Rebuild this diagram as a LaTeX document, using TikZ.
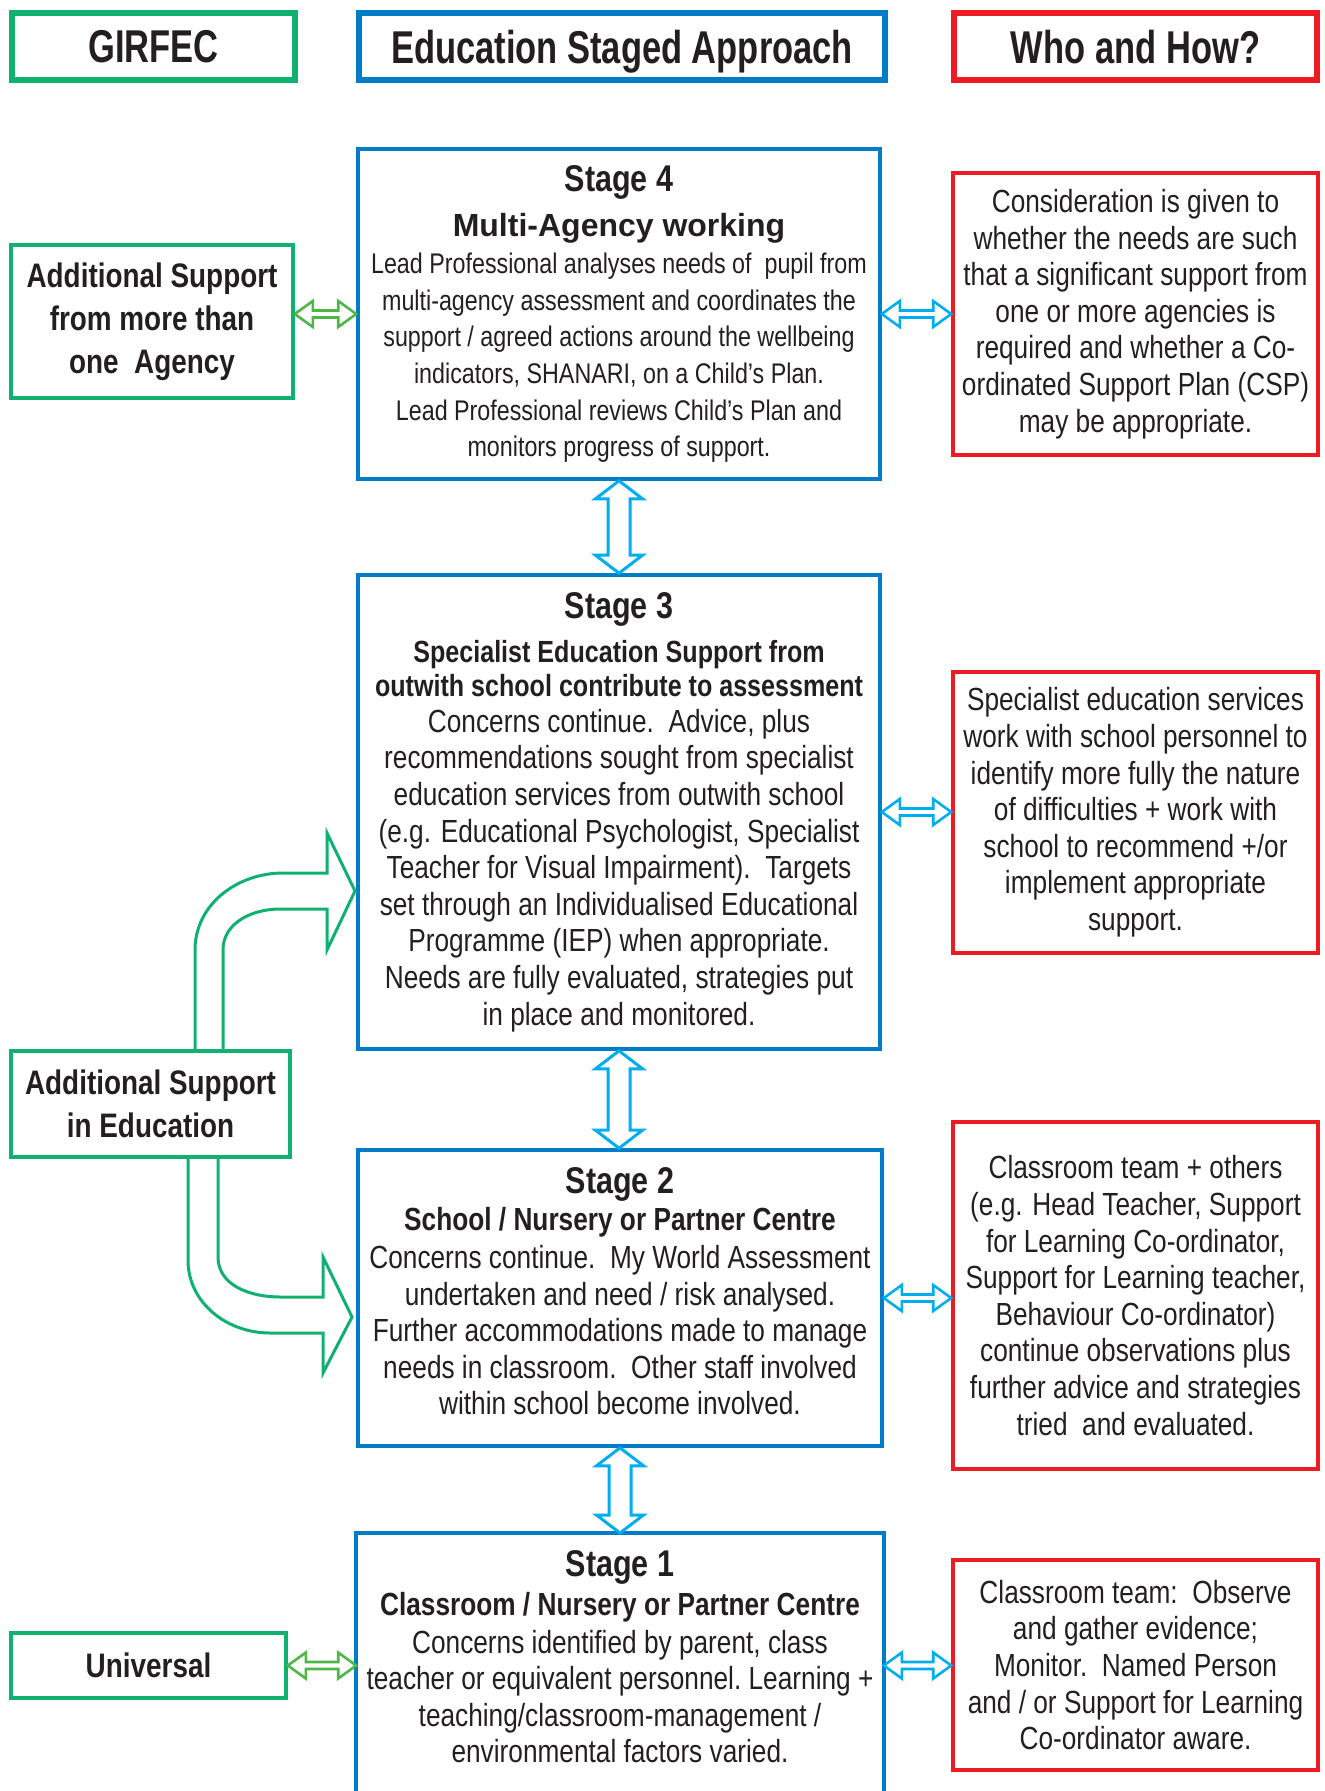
\documentclass[tikz,border=0pt]{standalone}
\usepackage{fontspec}
\setmainfont[FakeStretch=0.82]{Liberation Sans}
\newfontfamily\widefont{Liberation Sans}
\newfontfamily\narrowfont[FakeStretch=0.75]{Liberation Sans}
\usetikzlibrary{calc}

\definecolor{girgreen}{RGB}{16,176,112}
\definecolor{linkgreen}{RGB}{77,184,72}
\definecolor{stageblue}{RGB}{0,125,198}
\definecolor{linkblue}{RGB}{0,174,239}
\definecolor{whored}{RGB}{237,28,36}
\definecolor{inkdark}{RGB}{35,31,32}

\newcommand{\headfont}{\narrowfont\bfseries\fontsize{23}{24}\selectfont}
\newcommand{\stagefont}{\bfseries\fontsize{18.6}{18.3}\selectfont}
\newcommand{\subfont}{\bfseries\fontsize{16}{18.3}\selectfont}
\newcommand{\bodyfont}{\fontsize{16}{18.3}\selectfont}
\newcommand{\smallbody}{\fontsize{14.2}{18.3}\selectfont}
\newcommand{\girfont}{\bfseries\fontsize{17}{21.4}\selectfont}

% hollow double arrow, left point to right point
\newcommand{\sidelink}[3]{%
  \draw[#3, line width=1.3pt, line join=miter, fill=white] let \p1=#1, \p2=#2 in
    (\x1,\y1) -- ++(9pt,6.5pt) -- ++(0,-4.75pt) -- (\x2-9pt,\y1+1.75pt)
    -- ++(0,4.75pt) -- (\x2,\y1) -- ++(-9pt,-6.5pt) -- ++(0,4.75pt)
    -- (\x1+9pt,\y1-1.75pt) -- ++(0,-4.75pt) -- cycle;}
% hollow double arrow, top point to bottom point
\newcommand{\stagelink}[2]{%
  \draw[linkblue, line width=1.5pt, line join=miter, fill=white] let \p1=#1, \p2=#2 in
    (\x1,\y1) -- ++(11.75pt,-9pt) -- ++(-6.25pt,0) -- (\x1+5.5pt,\y2+9pt)
    -- ++(6.25pt,0) -- (\x1,\y2) -- ++(-11.75pt,9pt) -- ++(6.25pt,0)
    -- (\x1-5.5pt,\y1-9pt) -- ++(-6.25pt,0) -- cycle;}

\begin{document}
\begin{tikzpicture}[x=0.5pt, y=-0.5pt,
    every node/.style={text=inkdark},
    hdr/.style={draw, line width=3.2pt, minimum height=33.5pt, text depth=0pt, font=\headfont},
    stagebox/.style={draw=stageblue, line width=1.8pt, align=center, inner sep=0pt, font=\bodyfont},
    whobox/.style={draw=whored, line width=1.8pt, align=center, inner sep=0pt, minimum width=182.5pt, font=\bodyfont},
    girbox/.style={draw=girgreen, line width=1.8pt, align=center, inner sep=0pt, font=\girfont},
    bentarrow/.style={girgreen, line width=1.5pt, line join=miter}]
    \path[use as bounding box, clip] (0,0) rectangle (1325,1791);

    % Column headers
    \node[hdr, draw=girgreen, minimum width=141.5pt] (girfec) at (153.5,46.5) {GIRFEC};
    \node[hdr, draw=stageblue, minimum width=263pt] (staged) at (622,46.5) {Education Staged Approach};
    \node[hdr, draw=whored, minimum width=181.5pt] (whohow) at (1135.5,46.5) {Who and How?};

    % Stages
    \node[stagebox, font=\smallbody, minimum width=261pt, minimum height=165pt] (stage4) at (619,314)
        {{\stagefont Stage 4}\\[4pt]
         {\widefont\bfseries\fontsize{16}{18.3}\selectfont Multi-Agency working}\\[0.5pt]
         Lead Professional analyses needs of\ \ pupil from\\
         multi-agency assessment and coordinates the\\
         support / agreed actions around the wellbeing\\
         indicators, SHANARI, on a Child's Plan.\\
         Lead Professional reviews Child's Plan and\\
         monitors progress of support.};

    \node[stagebox, minimum width=261pt, minimum height=237pt] (stage3) at (619,812)
        {{\stagefont Stage 3}\\[4pt]
         {\subfont\fontsize{15.3}{18.3}\selectfont Specialist Education Support from}\\[-1.2pt]
         {\subfont\fontsize{15.3}{18.3}\selectfont outwith school contribute to assessment}\\[-0.6pt]
         Concerns continue.\ \ Advice, plus\\
         recommendations sought from specialist\\
         education services from outwith school\\
         (e.g. Educational Psychologist, Specialist\\
         Teacher for Visual Impairment).\ \ Targets\\
         set through an Individualised Educational\\
         Programme (IEP) when appropriate.\\
         Needs are fully evaluated, strategies put\\
         in place and monitored.};

    \node[stagebox, minimum width=262pt, minimum height=148pt] (stage2) at (620,1298)
        {{\stagefont Stage 2}\\[0.3pt]
         {\subfont School / Nursery or Partner Centre}\\[0.5pt]
         Concerns continue.\ \ My World Assessment\\
         undertaken and need / risk analysed.\\
         Further accommodations made to manage\\
         needs in classroom.\ \ Other staff involved\\
         within school become involved.\\[-11.5pt]
         \mbox{}};

    \node[stagebox, draw=none, minimum width=262pt, inner ysep=8pt, anchor=north] (stage1) at (620,1533)
        {{\stagefont Stage 1}\\[1.1pt]
         {\subfont Classroom / Nursery or Partner Centre}\\[0.5pt]
         Concerns identified by parent, class\\
         teacher or equivalent personnel.\ Learning +\\
         teaching/classroom-management /\\
         environmental factors varied.};
    \draw[stageblue, line width=1.8pt] ([yshift=-40pt]stage1.south west) -- (stage1.north west)
        -- (stage1.north east) -- ([yshift=-40pt]stage1.south east);

    % Who and how
    \node[whobox, minimum height=141pt] (who4) at (1135.5,314)
        {Consideration is given to\\
         whether the needs are such\\
         that a significant support from\\
         one or more agencies is\\
         required and whether a Co-\\
         ordinated Support Plan (CSP)\\
         may be appropriate.};
    \node[whobox, minimum height=140.5pt] (who3) at (1135.5,812.5)
        {Specialist education services\\
         work with school personnel to\\
         identify more fully the nature\\
         of difficulties + work with\\
         school to recommend +/or\\
         implement appropriate\\
         support.};
    \node[whobox, minimum height=173.5pt] (who2) at (1135.5,1295.5)
        {Classroom team + others\\
         (e.g. Head Teacher, Support\\
         for Learning Co-ordinator,\\
         Support for Learning teacher,\\
         Behaviour Co-ordinator)\\
         continue observations plus\\
         further advice and strategies\\
         tried\ \ and evaluated.};
    \node[whobox, minimum height=105pt] (who1) at (1135.5,1665)
        {Classroom team:\ \ Observe\\
         and gather evidence;\\
         Monitor.\ \ Named Person\\
         and / or Support for Learning\\
         Co-ordinator aware.};

    % GIRFEC levels
    \node[girbox, minimum width=141pt, minimum height=76.5pt] (agency) at (152,321.5)
        {Additional Support\\ from more than\\ one\ \ Agency};
    \node[girbox, minimum width=139.5pt, minimum height=53pt] (ased) at (150.5,1104)
        {Additional Support\\ in Education};
    \node[girbox, minimum width=137.5pt, minimum height=32.5pt] (universal) at (148.5,1665.5)
        {Universal};

    % Links between columns
    \sidelink{(agency.east |- stage4.west)}{(stage4.west)}{linkgreen}
    \sidelink{(universal.east)}{(stage1.west |- universal.east)}{linkgreen}
    \sidelink{(stage4.east)}{(who4.west |- stage4.east)}{linkblue}
    \sidelink{(stage3.east)}{(who3.west |- stage3.east)}{linkblue}
    \sidelink{(stage2.east)}{(who2.west |- stage2.east)}{linkblue}
    \sidelink{(stage1.east |- universal.east)}{(who1.west |- universal.east)}{linkblue}

    % Links between stages
    \stagelink{(stage4.south)}{(stage3.north)}
    \stagelink{(stage3.south)}{(stage2.north)}
    \stagelink{(stage2.south)}{(stage1.north)}

    % Bent arrows from Additional Support in Education
    \draw[bentarrow] (195,1050) -- (195,950) to[out=90,in=180] (283,873) -- (327,873) -- (327,833)
        -- (355,891) -- (327,950) -- (327,909) -- (280,909) to[out=180,in=90] (223,950) -- (223,1050);
    \draw[bentarrow] (188,1158) -- (188,1260) to[out=-90,in=180] (270,1333) -- (323,1333) -- (323,1373)
        -- (352,1317) -- (323,1257) -- (323,1297) -- (280,1297) to[out=180,in=-90] (218,1257) -- (218,1158);
\end{tikzpicture}
\end{document}
